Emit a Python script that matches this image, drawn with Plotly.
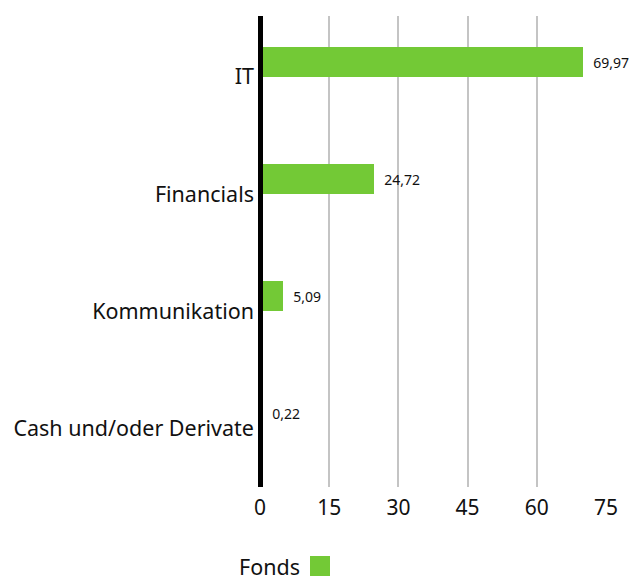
import plotly.graph_objects as go

# Sector weights of the fund (in %)
sectors = ["IT", "Financials", "Kommunikation", "Cash und/oder Derivate"]
weights = [69.97, 24.72, 5.09, 0.22]
x_ticks = [0, 15, 30, 45, 60, 75]

GREEN = "#73C936"
FONT = "Noto Sans"
INK = "#111"

# plot area in pixels (for the hand-drawn legend below the axis)
L, R, T, B = 260, 24, 16, 89
W, H = 630, 576
PW, PH = W - L - R, H - T - B

fig = go.Figure()
fig.add_trace(go.Bar(
    y=sectors,
    x=weights,
    orientation="h",
    name="Fonds",
    marker=dict(color=GREEN, line=dict(width=0)),
    width=0.256,
    offset=-0.256,
    texttemplate="\u00a0\u00a0%{x:.2f}",
    textposition="outside",
    textfont=dict(family=FONT, size=14, color=INK),
    cliponaxis=False,
    showlegend=False,
))

fig.update_layout(
    width=W,
    height=H,
    margin=dict(l=L, r=R, t=T, b=B),
    paper_bgcolor="white",
    plot_bgcolor="white",
    separators=",.",
    font=dict(family=FONT, color=INK),
    xaxis=dict(
        range=[0, 75],
        tickvals=x_ticks,
        showgrid=True,
        gridcolor="#c4c4c4",
        gridwidth=2,
        zeroline=True,
        zerolinecolor="#000",
        zerolinewidth=5,
        zerolinelayer="above traces",
        showline=False,
        tickfont=dict(family=FONT, size=21, color=INK),
        ticklabelstandoff=6,
        automargin=False,
        fixedrange=True,
    ),
    yaxis=dict(
        type="category",
        categoryorder="array",
        categoryarray=sectors,
        range=[3.5, -0.52],
        showgrid=False,
        zeroline=False,
        showline=False,
        tickfont=dict(family=FONT, size=21.5, color=INK),
        ticklabelstandoff=5,
        automargin=False,
        fixedrange=True,
    ),
    bargap=0,
)

# Legend: label followed by colour swatch
fig.add_annotation(
    x=(302 - L) / PW, y=-(566 - (H - B)) / PH,
    xref="x domain", yref="y domain", text="Fonds",
    showarrow=False, xanchor="right", yanchor="middle",
    font=dict(family=FONT, size=21.5, color=INK),
)
fig.add_shape(
    type="rect", xref="x domain", yref="y domain",
    x0=(310 - L) / PW, x1=(330 - L) / PW,
    y0=-(577 - (H - B)) / PH, y1=-(556 - (H - B)) / PH,
    fillcolor=GREEN, line=dict(width=0),
)

fig.write_html("out.html")
